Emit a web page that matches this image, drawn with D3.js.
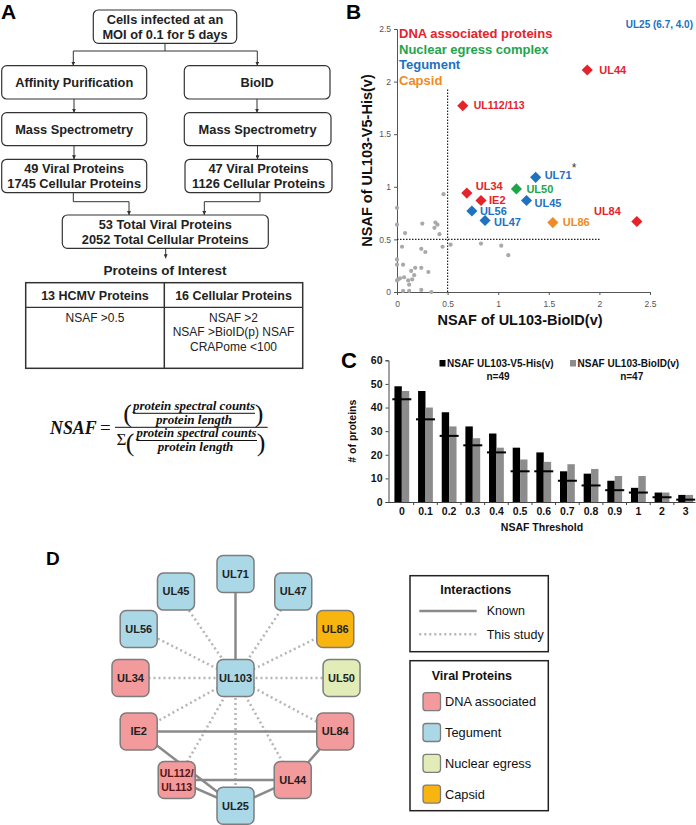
<!DOCTYPE html>
<html><head><meta charset="utf-8">
<script src="https://cdn.jsdelivr.net/npm/d3@7"></script>
<style>body{margin:0;background:#fff} svg{display:block}</style>
</head><body><svg id="c" width="696" height="825"></svg>
<script>
// ---------------- DATA ----------------
// Panel A (flowchart)
const flowLines = [
  ["Cells infected at an","MOI of 0.1 for 5 days"],
  ["Affinity Purification"],["BioID"],
  ["Mass Spectrometry"],["Mass Spectrometry"],
  ["49 Viral Proteins","1745 Cellular Proteins"],["47 Viral Proteins","1126 Cellular Proteins"],
  ["53 Total Viral Proteins","2052 Total Cellular Proteins"]
];
const tableHeaders = ["13 HCMV Proteins","16 Cellular Proteins"];
const tableBody = [["NSAF >0.5"],["NSAF >2","NSAF >BioID(p) NSAF","CRAPome <100"]];

// Panel B (scatter)
const bNames  = ["UL44","UL112/113","UL71","UL34","UL50","IE2","UL45","UL56","UL47","UL86","UL84"];
const bX      = [1.88,0.65,1.37,0.69,1.18,0.83,1.28,0.74,0.87,1.54,2.37];
const bY      = [2.11,1.77,1.09,0.94,0.98,0.87,0.87,0.77,0.68,0.66,0.67];
const bGroup  = ["DNA","DNA","Tegument","DNA","Nuclear","DNA","Tegument","Tegument","Tegument","Capsid","DNA"];
const grayX = [0.46,0,0,0.25,0.38,0.40,0.37,0.08,0.42,0.05,0.24,0.28,0.45,0.53,0.83,1.03,1.10,0,0,0.06,0.14,0.18,0.24,0.31,0.17,0.07,0.11,0.01,0.03,0,0.15,0.12,0.06,0.12,0.24,0.34];
const grayY = [0.93,0.80,0.64,0.65,0.66,0.64,0.61,0.56,0.55,0.43,0.41,0.38,0.43,0.45,0.46,0.44,0.35,0.31,0.26,0.26,0.20,0.23,0.23,0.19,0.16,0.14,0.11,0.12,0.13,0.11,0.12,0.07,0.01,0.01,0.02,0.00];
const bLegend = ["DNA associated proteins","Nuclear egress complex","Tegument","Capsid"];
const bTicks = [0,0.5,1,1.5,2,2.5];

// Panel C (bars)
const thresholds = ["0","0.1","0.2","0.3","0.4","0.5","0.6","0.7","0.8","0.9","1","2","3"];
const v5His  = [49,47,38,32,29,23,21,13,12,9,6,4,3];
const bioId  = [47,40,32,27,23,18,17,16,14,11,11,4,3];
const marks  = [43.5,35,28,24,21,13,13,9,7,5,4,2,1];
const cTicks = [0,10,20,30,40,50,60];

// Panel D (network)
const nodeNames  = ["UL103","UL71","UL45","UL47","UL56","UL86","UL34","UL50","IE2","UL84","UL112/|UL113","UL44","UL25"];
const nodeGroups = ["Tegument","Tegument","Tegument","Tegument","Tegument","Capsid","DNA","Nuclear","DNA","DNA","DNA","DNA","Tegument"];
const edgeList = [
  ["UL103","UL71","known"],["UL103","UL45","study"],["UL103","UL47","study"],["UL103","UL56","study"],
  ["UL103","UL86","study"],["UL103","UL34","study"],["UL103","UL50","study"],["UL103","IE2","study"],
  ["UL103","UL84","study"],["UL103","UL112/|UL113","study"],["UL103","UL44","study"],["UL103","UL25","study"],
  ["IE2","UL84","known"],["IE2","UL25","known"],["UL112/|UL113","UL44","known"],["UL112/|UL113","UL25","known"],
  ["UL44","UL25","known"],["UL84","UL44","known"]
];
const legendGroups = ["DNA associated","Tegument","Nuclear egress","Capsid"];

// ---------------- STYLE / LAYOUT ----------------
const SANS = "'Liberation Sans', Arial, sans-serif";
const SERIF = "'Liberation Serif', 'Times New Roman', serif";
const svg = d3.select("#c");

// ---- Panel A ----
const gA = svg.append("g");
gA.append("text").attr("x",1).attr("y",18.5).text("A").attr("font-family",SANS).attr("font-weight","bold").attr("font-size",21);
const boxLayout = [
  [93.3,10,143.4,33.3],[1.7,65.7,145,33.3],[184.3,65.7,145.7,33.3],
  [1.7,112.7,145,33],[184.3,112.7,146.7,33],
  [1.7,159.3,145,33.4],[185,159.3,147,33.4],[62.3,215,206,33.3]
];
svg.append("defs").append("marker").attr("id","arr").attr("viewBox","0 0 10 10").attr("refX",10).attr("refY",5)
  .attr("markerWidth",4).attr("markerHeight",4).attr("orient","auto")
  .append("path").attr("d","M0,0L10,5L0,10z").attr("fill","#333");
flowLines.forEach((lines,i)=>{
  const [x,y,w,h] = boxLayout[i];
  gA.append("rect").attr("x",x).attr("y",y).attr("width",w).attr("height",h).attr("rx",5)
    .attr("fill","#fff").attr("stroke","#333").attr("stroke-width",1.2);
  const cy = y+h/2;
  lines.forEach((t,j)=>{
    gA.append("text").attr("x",x+w/2).attr("y",cy+(lines.length===1?0:(j===0?-7.5:7.5)))
      .attr("dy","0.35em").attr("text-anchor","middle").attr("font-family",SANS).attr("font-weight","bold")
      .attr("font-size",12.8).attr("fill","#222").text(t);
  });
});
const conn = [
  [[165,43.3],[165,51]],
  [[73.3,51],[257.3,51]],
  [[73.3,51],[73.3,65.7],1],[[257.3,51],[257.3,65.7],1],
  [[74,99],[74,112.7],1],[[257,99],[257,112.7],1],
  [[74,145.7],[74,159.3],1],[[257.5,145.7],[257.5,159.3],1],
  [[73.3,192.7],[73.3,201.7],[129,201.7],[129,215],1],
  [[260,192.7],[260,201.7],[204.3,201.7],[204.3,215],1],
  [[165.7,248.3],[165.7,258.3],1]
];
conn.forEach(c=>{
  const arrow = typeof c[c.length-1]==="number";
  const pts = arrow? c.slice(0,-1) : c;
  gA.append("path").attr("d",d3.line()(pts)).attr("fill","none").attr("stroke","#333").attr("stroke-width",1)
    .attr("marker-end",arrow?"url(#arr)":null);
});
gA.append("text").attr("x",165).attr("y",270.7).attr("dy","0.35em").attr("text-anchor","middle")
  .attr("font-family",SANS).attr("font-weight","bold").attr("font-size",13.5).attr("fill","#222").text("Proteins of Interest");
gA.append("rect").attr("x",25.7).attr("y",282.7).attr("width",277).attr("height",85.6).attr("fill","none").attr("stroke","#333").attr("stroke-width",1.5);
gA.append("line").attr("x1",164.3).attr("x2",164.3).attr("y1",282.7).attr("y2",368.3).attr("stroke","#333").attr("stroke-width",1.5);
gA.append("line").attr("x1",25.7).attr("x2",302.7).attr("y1",307.3).attr("y2",307.3).attr("stroke","#333").attr("stroke-width",1.2);
const colC = [95,233.5];
tableHeaders.forEach((t,i)=>gA.append("text").attr("x",colC[i]).attr("y",295.7).attr("dy","0.35em").attr("text-anchor","middle")
  .attr("font-family",SANS).attr("font-weight","bold").attr("font-size",12.5).attr("fill","#222").text(t));
tableBody.forEach((lines,i)=>lines.forEach((t,j)=>gA.append("text").attr("x",colC[i]).attr("y",317.7+j*14.5).attr("dy","0.35em")
  .attr("text-anchor","middle").attr("font-family",SANS).attr("font-size",12).attr("fill","#222").text(t)));

// Formula
const gF = svg.append("g").attr("font-family",SERIF).attr("font-weight","bold").attr("font-style","italic").attr("fill","#111");
gF.append("text").attr("x",50).attr("y",434).attr("font-size",19).attr("textLength",46.7).attr("lengthAdjust","spacingAndGlyphs").text("NSAF");
gF.append("text").attr("x",100).attr("y",434).attr("font-size",19).attr("font-style","normal").attr("font-weight","normal").text("=");
const fracTxt = (t,cx,cy,len)=>gF.append("text").attr("x",cx).attr("y",cy).attr("dy","0.32em").attr("text-anchor","middle")
  .attr("font-size",11.5).attr("textLength",len).attr("lengthAdjust","spacingAndGlyphs").text(t);
fracTxt("protein spectral counts",194,406.2,122); fracTxt("protein length",194,420.2,76);
fracTxt("protein spectral counts",196.5,433.8,120); fracTxt("protein length",195.5,447.8,75.6);
[[133,255,413.3],[115,267.7,427.3],[136.5,257,440.5]].forEach(b=>gF.append("line").attr("x1",b[0]).attr("x2",b[1]).attr("y1",b[2]).attr("y2",b[2]).attr("stroke","#111").attr("stroke-width",1));
const paren = (t,x,y)=>gF.append("text").attr("x",x).attr("y",y).attr("font-size",26).attr("font-style","normal").attr("font-weight","normal").attr("text-anchor","middle").text(t);
paren("(",127.5,422); paren(")",259,422); paren("(",130,451); paren(")",261,451);
gF.append("text").attr("x",121.5).attr("y",445).attr("text-anchor","middle").attr("font-size",17).attr("font-style","normal").attr("font-weight","normal").text("Σ");

// ---- Panel B ----
const colB = {DNA:"#e5232b",Nuclear:"#1ea54b",Tegument:"#2171c1",Capsid:"#f08a24"};
const xB = d3.scaleLinear([0,2.5],[397,650]);
const yB = d3.scaleLinear([0,2.5],[292,29]);
const gB = svg.append("g");
gB.append("text").attr("x",346).attr("y",18.5).text("B").attr("font-family",SANS).attr("font-weight","bold").attr("font-size",21);
const axYB = gB.append("g").attr("transform",`translate(${xB(0)},0)`).call(d3.axisLeft(yB).tickValues(bTicks).tickSize(3).tickFormat(d3.format("")));
const axXB = gB.append("g").attr("transform",`translate(0,${yB(0)})`).call(d3.axisBottom(xB).tickValues(bTicks).tickSize(3).tickFormat(d3.format("")));
[axYB,axXB].forEach(a=>{a.selectAll("text").attr("font-family",SANS).attr("font-size",8.5).attr("fill","#555");
  a.selectAll("path,line").attr("stroke","#555");});
axXB.selectAll("text").attr("dy","1.1em");
gB.append("line").attr("x1",xB(0.5)).attr("x2",xB(0.5)).attr("y1",yB(0)).attr("y2",yB(1.94)).attr("stroke","#222").attr("stroke-width",1.2).attr("stroke-dasharray","1.5,1.5");
gB.append("line").attr("x1",xB(0)).attr("x2",xB(2.01)).attr("y1",yB(0.5)).attr("y2",yB(0.5)).attr("stroke","#222").attr("stroke-width",1.2).attr("stroke-dasharray","1.5,1.5");
gB.selectAll(".g").data(grayX).join("circle").attr("cx",(d)=>xB(d)).attr("cy",(d,i)=>yB(grayY[i])).attr("r",2.1).attr("fill","#a9a9a9");
const labOff = {"UL44":[12,0,"start"],"UL112/113":[11,0,"start"],"UL71":[9,-2,"start"],"UL34":[9,-7,"start"],"UL50":[10,0,"start"],
  "IE2":[8,0,"start"],"UL45":[8,3,"start"],"UL56":[8,0,"start"],"UL47":[9,2,"start"],"UL86":[10,0,"start"],"UL84":[-16,-10,"end"]};
bNames.forEach((n,i)=>{
  const cx = xB(bX[i]), cy = yB(bY[i]), c = colB[bGroup[i]];
  gB.append("path").attr("d",d3.symbol(d3.symbolSquare,62)()).attr("transform",`translate(${cx},${cy}) rotate(45)`).attr("fill",c);
  const o = labOff[n];
  gB.append("text").attr("x",cx+o[0]).attr("y",cy+o[1]).attr("dy","0.35em").attr("text-anchor",o[2])
    .attr("font-family",SANS).attr("font-weight","bold").attr("font-size",n.length>5?10.5:11).attr("fill",c).text(n);
  if(n==="UL71") gB.append("text").attr("x",cx+36).attr("y",cy-5).attr("font-family",SANS).attr("font-size",12).attr("fill","#333").text("*");
});
const legCol = ["DNA","Nuclear","Tegument","Capsid"];
bLegend.forEach((t,i)=>gB.append("text").attr("x",399).attr("y",33.5+i*15.5).attr("dy","0.35em").attr("font-family",SANS)
  .attr("font-size",13).attr("fill",colB[legCol[i]]).attr("font-weight","bold").text(t));
gB.append("text").attr("x",693).attr("y",24.5).attr("dy","0.35em").attr("text-anchor","end").attr("font-family",SANS).attr("font-weight","bold")
  .attr("font-size",10).attr("fill",colB.Tegument).text("UL25 (6.7, 4.0)");
gB.append("text").attr("transform",`translate(367,${yB(1.25)}) rotate(-90)`).attr("dy","0.35em").attr("text-anchor","middle")
  .attr("font-family",SANS).attr("font-weight","bold").attr("font-size",14.5).attr("fill","#111").text("NSAF of UL103-V5-His(v)");
gB.append("text").attr("x",520).attr("y",319.5).attr("dy","0.35em").attr("text-anchor","middle")
  .attr("font-family",SANS).attr("font-weight","bold").attr("font-size",14.5).attr("fill","#111").text("NSAF of UL103-BioID(v)");

// ---- Panel C ----
const xC = d3.scaleBand(thresholds,[390,697.5]);
const yC = d3.scaleLinear([0,60],[502,360.3]);
const gC = svg.append("g");
gC.append("text").attr("x",341).attr("y",368).text("C").attr("font-family",SANS).attr("font-weight","bold").attr("font-size",22);
const bw = 7.4, hw = 9.5;
gC.selectAll(".k").data(v5His).join("rect").attr("x",(d,i)=>xC(thresholds[i])+xC.bandwidth()/2-bw).attr("width",bw)
  .attr("y",d=>yC(d)).attr("height",d=>yC(0)-yC(d)).attr("fill","#000");
gC.selectAll(".gr").data(bioId).join("rect").attr("x",(d,i)=>xC(thresholds[i])+xC.bandwidth()/2).attr("width",bw)
  .attr("y",d=>yC(d)).attr("height",d=>yC(0)-yC(d)).attr("fill","#8c8c8c");
gC.selectAll(".m").data(marks).join("line").attr("x1",(d,i)=>xC(thresholds[i])+xC.bandwidth()/2-hw).attr("x2",(d,i)=>xC(thresholds[i])+xC.bandwidth()/2+hw)
  .attr("y1",d=>yC(d)).attr("y2",d=>yC(d)).attr("stroke","#000").attr("stroke-width",2);
const axYC = gC.append("g").attr("transform",`translate(388.5,0)`).call(d3.axisLeft(yC).tickValues(cTicks).tickSize(3));
const axXC = gC.append("g").attr("transform",`translate(0,${yC(0)})`).call(d3.axisBottom(xC).tickSize(0).tickPadding(6));
axXC.select(".domain").attr("d",`M388.5,0.5H695.5`);
thresholds.slice(1).forEach(t=>axXC.append("line").attr("x1",xC(t)).attr("x2",xC(t)).attr("y1",0).attr("y2",3).attr("stroke","#444"));
[axYC,axXC].forEach(a=>{a.selectAll("text").attr("font-family",SANS).attr("font-weight","bold").attr("font-size",10.5).attr("fill","#111");
  a.selectAll("path,line").attr("stroke","#444");});
gC.append("text").attr("transform",`translate(352,${yC(30)}) rotate(-90)`).attr("dy","0.35em").attr("text-anchor","middle")
  .attr("font-family",SANS).attr("font-weight","bold").attr("font-size",10.5).attr("fill","#111").text("# of proteins");
gC.append("text").attr("x",542).attr("y",527).attr("dy","0.35em").attr("text-anchor","middle")
  .attr("font-family",SANS).attr("font-weight","bold").attr("font-size",10.5).attr("fill","#111").text("NSAF Threshold");
const legC = [["NSAF UL103-V5-His(v)","n=49","#000",439.5,498],["NSAF UL103-BioID(v)","n=47","#8c8c8c",570,631.7]];
legC.forEach(l=>{
  gC.append("rect").attr("x",l[3]).attr("y",360).attr("width",6).attr("height",6.5).attr("fill",l[2]);
  gC.append("text").attr("x",l[3]+7.5).attr("y",363.3).attr("dy","0.35em").attr("font-family",SANS).attr("font-weight","bold").attr("font-size",10).attr("fill","#111").text(l[0]);
  gC.append("text").attr("x",l[4]).attr("y",376.5).attr("dy","0.35em").attr("text-anchor","middle").attr("font-family",SANS).attr("font-weight","bold").attr("font-size",10).attr("fill","#111").text(l[1]);
});

// ---- Panel D ----
const colD = {Tegument:"#aad8e6",DNA:"#f39a9c",Nuclear:"#e1ecb6",Capsid:"#f8b50f"};
const gD = svg.append("g");
gD.append("text").attr("x",46).attr("y",565).text("D").attr("font-family",SANS).attr("font-weight","bold").attr("font-size",19);
// layout (grid units) for the network diagram
const layoutCol = [0,0,-0.567,0.55,-0.922,0.95,-1,1.01,-0.922,0.95,-0.56,0.545,0];
const layoutRow = [0.449,0,0.076,0.076,0.237,0.237,0.449,0.449,0.68,0.68,0.889,0.889,1];
const colS = d3.scaleLinear([-1,1],[130.5,340.5]);
const rowS = d3.scaleLinear([0,1],[574,805.7]);
const pos = {};
nodeNames.forEach((n,i)=>pos[n]=[colS(layoutCol[i]),rowS(layoutRow[i])]);
edgeList.forEach(e=>{
  const a=pos[e[0]], b=pos[e[1]];
  gD.append("line").attr("x1",a[0]).attr("y1",a[1]).attr("x2",b[0]).attr("y2",b[1])
    .attr("stroke",e[2]==="known"?"#8a8a8a":"#b5b5b5").attr("stroke-width",2.5)
    .attr("stroke-dasharray",e[2]==="known"?null:"2,3");
});
const ns = 37;
nodeNames.forEach((n,i)=>{
  const [x,y]=pos[n];
  gD.append("rect").attr("x",x-ns/2).attr("y",y-ns/2).attr("width",ns).attr("height",ns).attr("rx",6)
    .attr("fill",colD[nodeGroups[i]]).attr("stroke","#7d7d7d").attr("stroke-width",1.5);
  const lines = n.split("|");
  lines.forEach((t,j)=>gD.append("text").attr("x",x).attr("y",y+(lines.length===1?0:(j===0?-7:7))).attr("dy","0.35em")
    .attr("text-anchor","middle").attr("font-family",SANS).attr("font-weight","bold").attr("font-size",lines.length>1?10.5:11)
    .attr("fill",lines.length>1?"#5a1414":"#222").text(t));
});
// legend boxes
gD.append("rect").attr("x",410).attr("y",575.7).attr("width",138.3).attr("height",76).attr("fill","none").attr("stroke","#222").attr("stroke-width",1.5);
gD.append("text").attr("x",475.7).attr("y",589.3).attr("dy","0.35em").attr("text-anchor","middle").attr("font-family",SANS).attr("font-weight","bold").attr("font-size",12.5).attr("fill","#111").text("Interactions");
gD.append("line").attr("x1",419.3).attr("x2",476.7).attr("y1",611).attr("y2",611).attr("stroke","#8a8a8a").attr("stroke-width",2.5);
gD.append("line").attr("x1",419.3).attr("x2",476.7).attr("y1",634.3).attr("y2",634.3).attr("stroke","#b5b5b5").attr("stroke-width",2.5).attr("stroke-dasharray","2,3");
[["Known",611],["This study",634.3]].forEach(l=>gD.append("text").attr("x",486.7).attr("y",l[1]).attr("dy","0.35em").attr("font-family",SANS).attr("font-size",12.5).attr("fill","#111").text(l[0]));
gD.append("rect").attr("x",410).attr("y",660.7).attr("width",138.3).attr("height",150).attr("fill","none").attr("stroke","#222").attr("stroke-width",1.5);
gD.append("text").attr("x",431.7).attr("y",676).attr("dy","0.35em").attr("font-family",SANS).attr("font-weight","bold").attr("font-size",12.5).attr("fill","#111").text("Viral Proteins");
const legKeys = ["DNA","Tegument","Nuclear","Capsid"];
legendGroups.forEach((t,i)=>{
  const cy = 701.7+i*30.8;
  gD.append("rect").attr("x",423).attr("y",cy-9).attr("width",17.5).attr("height",18).attr("rx",3).attr("fill",colD[legKeys[i]]).attr("stroke","#7d7d7d").attr("stroke-width",1.3);
  gD.append("text").attr("x",445).attr("y",cy).attr("dy","0.35em").attr("font-family",SANS).attr("font-size",12.8).attr("fill","#111").text(t);
});
</script></body></html>
